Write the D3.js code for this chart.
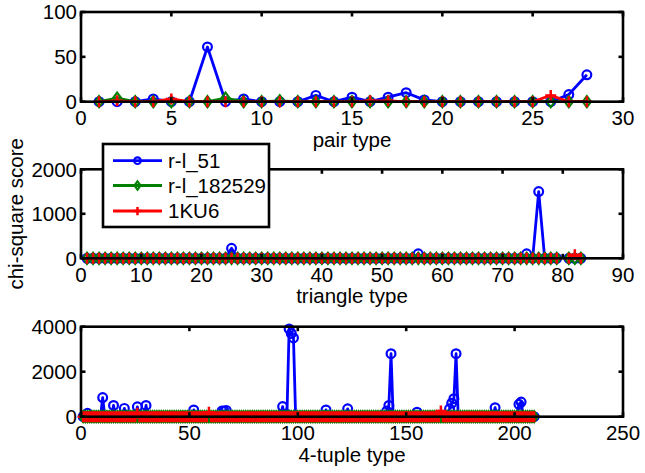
<!DOCTYPE html>
<html><head><meta charset="utf-8">
<script src="https://cdn.jsdelivr.net/npm/d3@7"></script>
<style>
body{margin:0;background:#fff}
svg{display:block}
text{font-family:"Liberation Sans",Arial,Helvetica,sans-serif;font-size:20.5px;fill:#000}
</style>
</head><body>
<svg id="c" width="645" height="473"></svg>
<script>
// ---------------- data ----------------
const seriesNames = ["r-l_51", "r-l_182529", "1KU6"];
const seriesColors = ["#0000ff", "#008000", "#ff0000"];
const seriesMarkers = ["circle", "diamond", "plus"];

// pair type 1..28
const pairBlue  = [0,0,0,3,0,0,61,0,3,0,0,0,7,0,5,0,5,10,2,0,0,0,0,0,0,0,8,30];
const pairGreen = [0,4,0,0,0,0,0,4,0,0,1,0,0,0,0,0,0,0,0,0,0,0,0,0,0,0,0,0];
const pairRed   = [0,1,0,0,3,0,0,0,0,0,0,0,0,0,0,1,1,0,0,0,0,0,0,0,0,7,0,0];

// triangle type 1..83 (type 80 missing)
const triBlue = [
 0,0,0,0,0,0,0,0,0,0, 0,0,0,0,0,0,0,0,0,0, 0,0,0,0,225,0,0,0,0,0,
 0,0,0,0,0,0,0,0,0,0, 0,0,0,0,0,0,0,0,0,0, 0,0,0,0,0,100,0,0,0,0,
 0,0,0,0,0,0,0,0,0,0, 0,0,0,100,0,1500,0,0,0,null, 0,0,0];
const triGreen = [
 0,0,0,0,0,0,0,0,0,0, 0,0,0,0,0,0,0,0,0,0, 0,0,0,0,0,0,0,0,0,0,
 0,0,0,0,0,0,0,0,0,0, 0,0,0,0,0,0,0,0,0,0, 0,0,0,0,0,0,0,0,0,0,
 0,0,0,0,0,0,0,0,0,0, 0,0,0,0,0,0,0,0,0,null, 0,0,0];
const triRed = [
 0,0,0,0,0,0,0,0,0,0, 0,0,0,0,0,0,0,0,0,0, 0,0,0,0,0,0,0,0,0,0,
 0,0,0,0,0,0,0,0,0,0, 0,0,0,0,0,0,0,0,0,0, 0,0,0,0,0,0,0,0,0,0,
 0,0,0,0,0,0,0,0,0,0, 0,0,0,0,0,0,0,0,0,null, 0,80,0];

// 4-tuple type 1..209
const quadBlue = [
 0,0,150,0,0,0,0,0,0,850,  0,0,0,0,500,0,0,0,0,370,  0,0,0,0,0,440,0,0,0,500,
 0,0,0,0,0,0,0,0,0,0,      0,0,0,0,0,0,0,0,0,0,      0,300,0,0,0,0,0,0,0,0,
 0,0,0,0,250,250,280,0,0,0, 0,0,0,0,0,0,0,0,0,0,     0,0,0,0,0,0,0,0,0,0,
 0,0,450,0,100,3900,3700,3500,0,0, 0,0,0,0,0,0,0,0,0,0, 0,0,300,0,0,0,0,0,0,0,
 0,0,350,0,0,0,0,0,0,0,    0,0,0,0,0,0,0,0,0,0,      250,500,2800,0,0,0,0,0,0,0,
 0,0,0,0,200,0,0,0,0,0,    0,0,0,0,0,0,0,0,0,350,    600,800,2800,0,0,0,0,0,0,0,
 0,0,0,0,0,0,0,0,0,0,      400,0,0,0,0,0,0,0,0,0,    0,550,650,0,0,0,0,0,0];
const quadGreen = [
 0,0,0,0,0,0,0,0,0,0, 0,0,0,0,0,0,0,0,0,0, 0,0,0,0,0,0,0,0,0,0,
 0,0,0,0,0,0,0,0,0,0, 0,0,0,0,0,0,0,0,0,0, 0,0,0,0,0,0,0,0,0,0,
 0,0,0,0,0,0,0,0,0,0, 0,0,0,0,0,0,0,0,0,0, 0,0,0,0,0,0,0,0,0,0,
 0,0,0,0,0,0,0,0,0,0, 0,0,0,0,0,0,0,0,0,0, 0,0,0,0,0,0,0,0,0,0,
 0,0,0,0,0,0,0,0,0,0, 0,0,0,0,0,0,0,0,0,0, 0,0,0,0,0,0,0,0,0,0,
 0,0,0,0,0,0,0,0,0,0, 0,0,0,0,0,0,0,0,0,0, 0,0,0,0,0,0,0,0,0,0,
 0,0,0,0,0,0,0,0,0,0, 0,0,0,0,0,0,0,0,0,0, 0,0,0,0,0,0,0,0,0];
const quadRed = [
 0,0,0,0,0,0,0,0,0,0, 0,0,0,0,0,0,0,0,0,0, 0,0,0,0,0,150,0,0,0,0,
 0,0,0,0,0,0,0,0,0,0, 0,0,0,0,0,0,0,0,0,0, 0,0,0,0,0,0,0,0,200,0,
 0,0,0,0,0,0,0,0,0,0, 0,0,0,0,0,0,0,0,0,0, 0,0,0,0,0,0,0,0,0,0,
 0,0,0,0,0,0,0,0,0,0, 0,0,0,0,0,0,0,0,0,0, 0,0,0,0,0,0,0,0,0,0,
 0,0,0,0,0,0,0,0,0,0, 0,0,0,0,0,0,0,0,0,0, 0,0,0,0,0,0,0,0,0,0,
 0,0,0,0,0,0,0,0,0,0, 0,0,0,0,0,250,0,0,0,0, 0,0,0,0,0,0,0,0,0,0,
 0,0,0,0,0,0,0,0,0,0, 0,0,0,0,0,0,0,0,0,0, 0,0,0,0,0,0,0,0,0];

const pairXTicks = [0,5,10,15,20,25,30];
const pairYTicks = [0,50,100];
const triXTicks = [0,10,20,30,40,50,60,70,80,90];
const triYTicks = [0,1000,2000];
const quadXTicks = [0,50,100,150,200,250];
const quadYTicks = [0,2000,4000];

const xTitles = ["pair type", "triangle type", "4-tuple type"];
const yTitle = "chi-square score";

// ---------------- drawing ----------------
const svg = d3.select("#c");
const L = 81, R = 623;
const panels = [
  {top: 12,  bottom: 101.7, xDom: [0,30],  yDom: [0,100],  xt: pairXTicks, yt: pairYTicks, s: [pairBlue, pairGreen, pairRed]},
  {top: 169.3, bottom: 258.3, xDom: [0,90],  yDom: [0,2000], xt: triXTicks,  yt: triYTicks,  s: [triBlue, triGreen, triRed]},
  {top: 326.7, bottom: 416.7, xDom: [0,250], yDom: [0,4000], xt: quadXTicks, yt: quadYTicks, s: [quadBlue, quadGreen, quadRed]}
];

function marker(g, type, color, x, y, sc) {
  sc = sc || 1;
  if (type === "circle") {
    g.append("circle").attr("cx", x).attr("cy", y).attr("r", 4.4*sc)
      .attr("fill", "none").attr("stroke", color).attr("stroke-width", 2.2);
  } else if (type === "diamond") {
    const w = 4.1*sc, h = 5.6*sc;
    g.append("path").attr("d", `M${x},${y-h}L${x+w},${y}L${x},${y+h}L${x-w},${y}Z`)
      .attr("fill", "none").attr("stroke", color).attr("stroke-width", 2.1);
  } else {
    const a = 5.5*sc;
    g.append("path").attr("d", `M${x-a},${y}H${x+a}M${x},${y-a}V${y+a}`)
      .attr("fill", "none").attr("stroke", color).attr("stroke-width", 2.5);
  }
}

panels.forEach((p, pi) => {
  const x = d3.scaleLinear().domain(p.xDom).range([L, R]);
  const y = d3.scaleLinear().domain(p.yDom).range([p.bottom, p.top]);
  const g = svg.append("g");

  p.s.forEach((vals, si) => {
    const pts = vals.map((v, i) => ({t: i + 1, v}));
    const line = d3.line().defined(d => d.v !== null).x(d => x(d.t)).y(d => y(d.v));
    g.append("path").datum(pts).attr("d", line)
      .attr("fill", "none").attr("stroke", seriesColors[si]).attr("stroke-width", 2.8)
      .attr("stroke-linejoin", "round");
    const mg = g.append("g");
    pts.filter(d => d.v !== null).forEach(d => marker(mg, seriesMarkers[si], seriesColors[si], x(d.t), y(d.v)));
  });

  // axes box with inward ticks on all sides
  const tl = 4.5;
  const ax = svg.append("g");
  ax.append("rect").attr("x", L).attr("y", p.top).attr("width", R - L).attr("height", p.bottom - p.top)
    .attr("fill", "none").attr("stroke", "#000").attr("stroke-width", 2.6);
  p.xt.forEach(t => {
    ax.append("line").attr("x1", x(t)).attr("x2", x(t)).attr("y1", p.top).attr("y2", p.top + tl).attr("stroke", "#000").attr("stroke-width", 2.6);
    ax.append("line").attr("x1", x(t)).attr("x2", x(t)).attr("y1", p.bottom).attr("y2", p.bottom - tl).attr("stroke", "#000").attr("stroke-width", 2.6);
    ax.append("text").attr("x", x(t)).attr("y", p.bottom + 23.5).attr("text-anchor", "middle").text(t);
  });
  p.yt.forEach(t => {
    ax.append("line").attr("x1", L).attr("x2", L + tl).attr("y1", y(t)).attr("y2", y(t)).attr("stroke", "#000").attr("stroke-width", 2.6);
    ax.append("line").attr("x1", R).attr("x2", R - tl).attr("y1", y(t)).attr("y2", y(t)).attr("stroke", "#000").attr("stroke-width", 2.6);
    ax.append("text").attr("x", L - 4).attr("y", y(t) + 7.3).attr("text-anchor", "end").text(t);
  });
  ax.append("text").attr("x", (L + R) / 2).attr("y", p.bottom + 45).attr("text-anchor", "middle").text(xTitles[pi]);
});

// y title
svg.append("text").attr("transform", `translate(23,${(panels[1].top + panels[1].bottom)/2}) rotate(-90)`)
  .attr("text-anchor", "middle").text(yTitle);

// legend
const lg = svg.append("g");
lg.append("rect").attr("x", 103).attr("y", 144).attr("width", 166).attr("height", 83)
  .attr("fill", "#fff").attr("stroke", "#000").attr("stroke-width", 2.6);
const legY = [160.7, 185.5, 211];
seriesNames.forEach((n, i) => {
  lg.append("line").attr("x1", 113).attr("x2", 162).attr("y1", legY[i]).attr("y2", legY[i])
    .attr("stroke", seriesColors[i]).attr("stroke-width", 2.8);
  marker(lg, seriesMarkers[i], seriesColors[i], 137.5, legY[i], 0.75);
  lg.append("text").attr("x", 168).attr("y", legY[i] + 7.3).text(n);
});
</script>
</body></html>
